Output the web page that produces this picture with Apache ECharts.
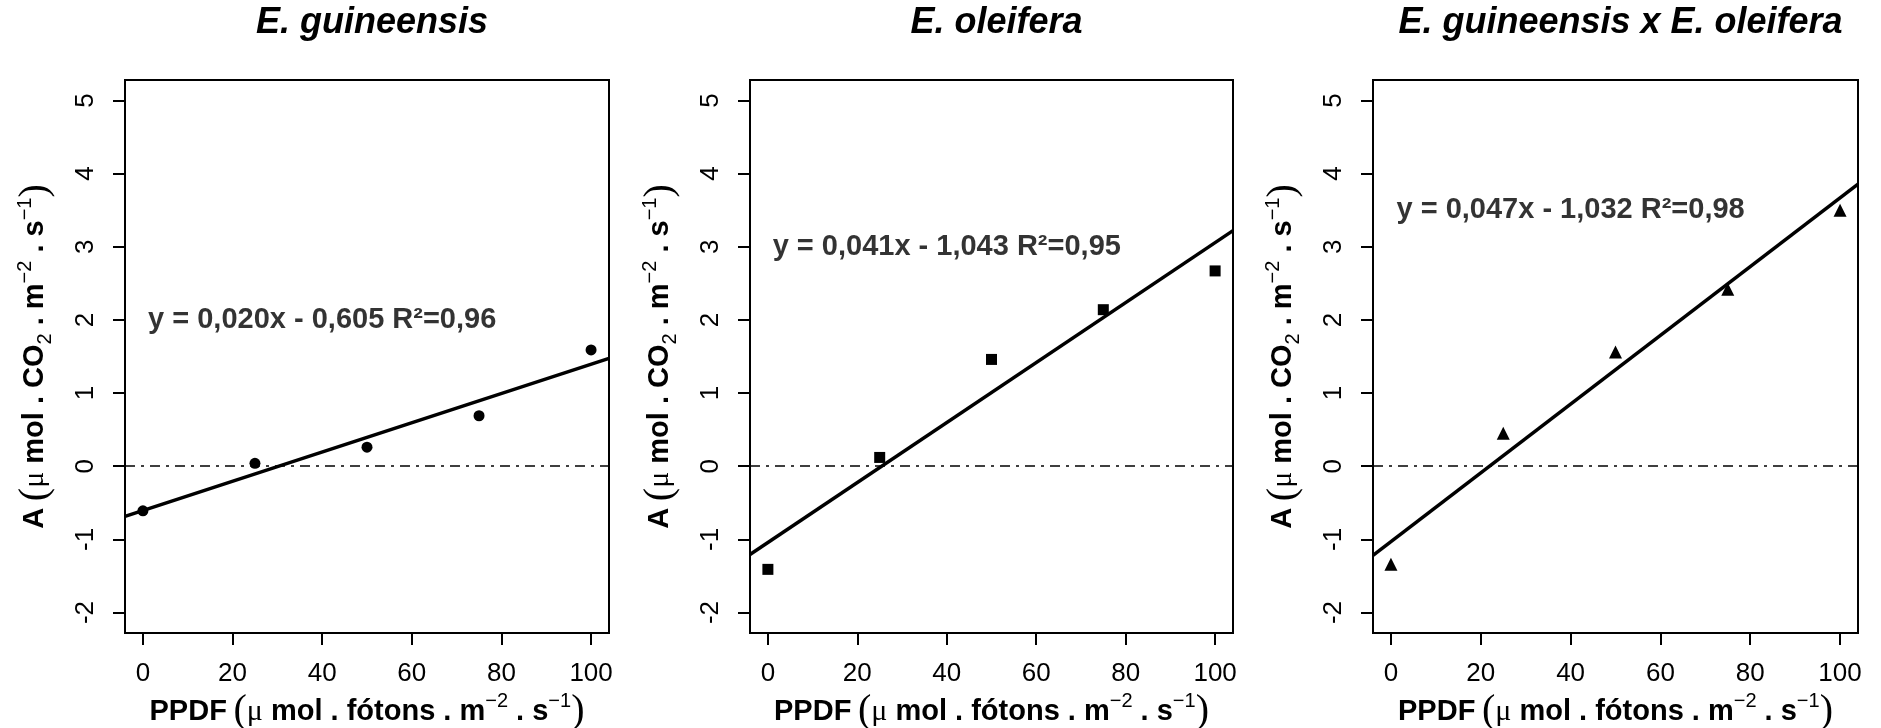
<!DOCTYPE html>
<html>
<head>
<meta charset="utf-8">
<script src="https://cdn.jsdelivr.net/npm/echarts@6/dist/echarts.min.js"></script>
<style>
  html, body { margin: 0; padding: 0; background: #fff; }
  #main { width: 1881px; height: 728px; }
</style>
</head>
<body>
<div id="main"></div>
<script>
// dados
var titles = ['E. guineensis', 'E. oleifera', 'E. guineensis x E. oleifera'];
var ppdf = [0, 25, 50, 75, 100];
var aGuineensis = [-0.61, 0.04, 0.26, 0.69, 1.59];
var aOleifera = [-1.41, 0.12, 1.46, 2.14, 2.67];
var aHibrido = [-1.34, 0.45, 1.56, 2.42, 3.50];
var slopes = [0.020, 0.041, 0.047];
var intercepts = [-0.605, -1.043, -1.032];
var equations = [
    'y = 0,020x - 0,605 R²=0,96',
    'y = 0,041x - 1,043 R²=0,95',
    'y = 0,047x - 1,032 R²=0,98'
];
var xTicks = [0, 20, 40, 60, 80, 100];
var yTicks = [-2, -1, 0, 1, 2, 3, 4, 5];

var valores = [aGuineensis, aOleifera, aHibrido];
var simbolos = ['circle', 'rect', 'triangle'];
var tamanhos = [11, 11, 13];
var eqPos = [[40, 2], [40, 3], [40, 3.5]];
var gridLeft = [125, 750, 1373];
var gridWidth = [484, 483, 485];
var xMin = -4, xMax = 104;

var fonte = 'Liberation Sans';
var rich = {
    b: { fontSize: 29, fontWeight: 'bold', fontFamily: fonte, color: '#000' },
    p: { fontSize: 40, fontFamily: 'Liberation Serif', color: '#000' },
    mu: { fontSize: 30, fontFamily: 'Liberation Serif', color: '#000' },
    sup: { fontSize: 20, fontFamily: fonte, verticalAlign: 'top', color: '#000' },
    sub: { fontSize: 20, fontFamily: fonte, verticalAlign: 'bottom', color: '#000' }
};
var xName = '{b|PPDF}  {p|(}{mu|μ}{b| mol . fótons . m}{sup|−2}{b| . s}{sup|−1}{p|)}';
var yName = '{b|A}  {p|(}{mu|μ}{b| mol . CO}{sub|2}{b| . m}{sup|−2}{b| . s}{sup|−1}{p|)}';

var myChart = echarts.init(document.getElementById('main'));

var option = {
    backgroundColor: '#fff',
    animation: false,
    title: [],
    grid: [],
    xAxis: [],
    yAxis: [],
    series: []
};

for (var i = 0; i < 3; i++) {
    option.title.push({
        text: titles[i],
        left: gridLeft[i] + gridWidth[i] / 2,
        top: 0,
        textAlign: 'center',
        textStyle: { fontSize: 36, fontStyle: 'italic', fontWeight: 'bold', fontFamily: fonte, color: '#000' }
    });
    option.grid.push({
        left: gridLeft[i], top: 80, width: gridWidth[i], height: 553,
        outerBoundsMode: 'none',
        show: true, borderColor: '#000', borderWidth: 2, backgroundColor: 'transparent'
    });
    option.xAxis.push({
        gridIndex: i,
        type: 'value',
        min: xMin,
        max: xMax,
        axisLine: { show: true, onZero: false, lineStyle: { color: '#000', width: 2 } },
        axisTick: { show: true, length: 12, customValues: xTicks, lineStyle: { color: '#000', width: 2 } },
        axisLabel: { customValues: xTicks, fontSize: 26, fontFamily: fonte, color: '#000', margin: 28 },
        splitLine: { show: false },
        name: xName,
        nameLocation: 'middle',
        nameGap: 58,
        nameTextStyle: { rich: rich }
    });
    option.yAxis.push({
        gridIndex: i,
        type: 'value',
        min: -2.28,
        max: 5.28,
        axisLine: { show: true, onZero: false, lineStyle: { color: '#000', width: 2 } },
        axisTick: { show: true, length: 12, customValues: yTicks, lineStyle: { color: '#000', width: 2 } },
        axisLabel: { customValues: yTicks, rotate: 90, fontSize: 26, fontFamily: fonte, color: '#000', margin: 26 },
        splitLine: { show: false },
        name: yName,
        nameLocation: 'middle',
        nameRotate: 90,
        nameGap: 70,
        nameTextStyle: { rich: rich }
    });

    // pontos observados
    option.series.push({
        type: 'scatter',
        xAxisIndex: i,
        yAxisIndex: i,
        symbol: simbolos[i],
        symbolSize: tamanhos[i],
        itemStyle: { color: '#000', opacity: 1 },
        data: ppdf.map(function (x, k) { return [x, valores[i][k]]; }),
        markLine: {
            silent: true,
            symbol: 'none',
            label: { show: false },
            lineStyle: { color: '#000', width: 1.5, type: [10, 6, 3, 6] },
            data: [{ yAxis: 0 }]
        },
        z: 3
    });

    // reta ajustada (equação do gráfico)
    option.series.push({
        type: 'line',
        xAxisIndex: i,
        yAxisIndex: i,
        showSymbol: false,
        lineStyle: { color: '#000', width: 3.5 },
        data: [
            [xMin, intercepts[i] + slopes[i] * xMin],
            [xMax, intercepts[i] + slopes[i] * xMax]
        ],
        z: 2
    });

    // texto da equação
    option.series.push({
        type: 'scatter',
        xAxisIndex: i,
        yAxisIndex: i,
        symbolSize: 1,
        itemStyle: { color: 'transparent' },
        label: {
            show: true,
            position: 'inside',
            formatter: equations[i],
            fontSize: 29,
            fontWeight: 'bold',
            fontFamily: fonte,
            color: '#000'
        },
        data: [eqPos[i]],
        z: 4
    });
}

myChart.setOption(option);
</script>
</body>
</html>
